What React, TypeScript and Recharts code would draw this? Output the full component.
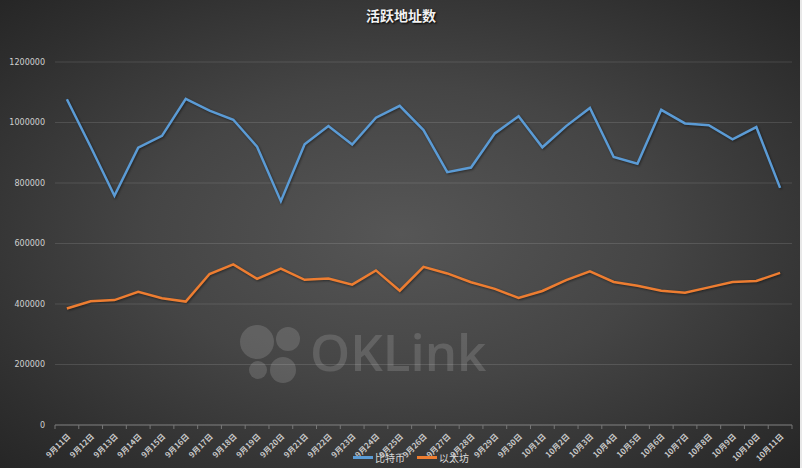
import React from 'react';
import { CartesianGrid, Line, LineChart, XAxis, YAxis } from 'recharts';

const dates = [
  '9月11日', '9月12日', '9月13日', '9月14日', '9月15日', '9月16日', '9月17日', '9月18日',
  '9月19日', '9月20日', '9月21日', '9月22日', '9月23日', '9月24日', '9月25日', '9月26日',
  '9月27日', '9月28日', '9月29日', '9月30日', '10月1日', '10月2日', '10月3日', '10月4日',
  '10月5日', '10月6日', '10月7日', '10月8日', '10月9日', '10月10日', '10月11日'
];

const btc = [
  1077000, 920000, 758000, 917000, 956000, 1078000, 1039000, 1009000,
  920000, 740000, 928000, 988000, 927000, 1016000, 1055000, 975000,
  836000, 851000, 964000, 1021000, 918000, 988000, 1048000, 886000,
  864000, 1042000, 997000, 991000, 944000, 985000, 784000
];

const eth = [
  385000, 409000, 413000, 440000, 419000, 408000, 499000, 531000,
  483000, 517000, 480000, 484000, 464000, 511000, 444000, 523000,
  501000, 472000, 450000, 420000, 443000, 479000, 508000, 473000,
  460000, 444000, 437000, 455000, 473000, 476000, 503000
];

const yTicks = [0, 200000, 400000, 600000, 800000, 1000000, 1200000];

const data = dates.map((d, i) => ({ date: d, btc: btc[i], eth: eth[i] }));

const BAND = 737 / dates.length;

const DateTick = (props: any) => {
  const { x, y, payload, index } = props;
  const last = index === dates.length - 1;
  return (
    <g>
      <line x1={x - BAND / 2} y1={y - 8} x2={x - BAND / 2} y2={y - 4} stroke="#777" />
      {last && <line x1={x + BAND / 2} y1={y - 8} x2={x + BAND / 2} y2={y - 4} stroke="#777" />}
      <text
        x={x + 4}
        y={y + 4}
        transform={`rotate(-45, ${x + 4}, ${y + 4})`}
        textAnchor="end"
        fontSize={8}
        fontWeight="bold"
        fill="#c8c8c8"
        fontFamily="'Noto Sans CJK SC', sans-serif"
      >
        {payload.value}
      </text>
    </g>
  );
};

const App = () => {
  return (
    <div
      style={{
        position: 'absolute',
        left: 0,
        top: 0,
        width: 802,
        height: 468,
        overflow: 'hidden',
        background: 'radial-gradient(ellipse at 50% 50%, #565656 0%, #454545 45%, #2e2e2e 85%, #262626 100%)',
        fontFamily: "'Noto Sans CJK SC', sans-serif"
      }}
    >
      <div
        style={{
          position: 'absolute',
          top: 5,
          width: 802,
          textAlign: 'center',
          color: '#f2f2f2',
          fontSize: 14,
          fontWeight: 'bold',
          textShadow: '1px 1px 2px #000'
        }}
      >
        活跃地址数
      </div>
      <svg width={802} height={468} style={{ position: 'absolute', left: 0, top: 0 }}>
        <g fill="rgba(255,255,255,0.14)">
          <circle cx={257} cy={342} r={17} />
          <circle cx={288} cy={339} r={12} />
          <circle cx={258} cy={370} r={9} />
          <circle cx={283} cy={370} r={13} />
          <text x={310} y={371} fontSize={51} fontWeight={600} fontFamily="'Open Sans', sans-serif">
            OKLink
          </text>
        </g>
      </svg>
      <div style={{ position: 'absolute', left: 0, top: 0 }}>
        <LineChart
          width={802}
          height={468}
          data={data}
          margin={{ top: 62, right: 10, left: 0, bottom: 0 }}
        >
          <CartesianGrid vertical={false} stroke="rgba(255,255,255,0.12)" />
          <XAxis
            dataKey="date"
            interval={0}
            height={43}
            tickLine={false}
            stroke="#777"
            padding={{ left: BAND / 2, right: BAND / 2 }}
            tick={<DateTick />}
          />
          <YAxis
            width={55}
            domain={[0, 1200000]}
            ticks={yTicks}
            axisLine={false}
            tickLine={false}
            tick={{ fill: '#d0d0d0', fontSize: 8, fontFamily: "'DejaVu Sans', sans-serif" }}
            tickMargin={4}
          />
          <Line
            type="linear"
            dataKey="btc"
            name="比特币"
            stroke="#5b9bd5"
            strokeWidth={2.5}
            dot={false}
            isAnimationActive={false}
            style={{ filter: 'drop-shadow(1px 1px 1px rgba(0,0,0,0.45))' }}
          />
          <Line
            type="linear"
            dataKey="eth"
            name="以太坊"
            stroke="#ed7d31"
            strokeWidth={2.5}
            dot={false}
            isAnimationActive={false}
            style={{ filter: 'drop-shadow(1px 1px 1px rgba(0,0,0,0.45))' }}
          />
        </LineChart>
      </div>
      <div
        style={{
          position: 'absolute',
          top: 450,
          left: 353,
          display: 'flex',
          alignItems: 'center',
          fontSize: 10,
          color: '#d9d9d9'
        }}
      >
        <span style={{ display: 'inline-block', width: 20, height: 3, background: '#5b9bd5', marginRight: 2 }} />
        <span style={{ marginRight: 12 }}>比特币</span>
        <span style={{ display: 'inline-block', width: 20, height: 3, background: '#ed7d31', marginRight: 2 }} />
        <span>以太坊</span>
      </div>
      <div style={{ position: 'absolute', right: 0, top: 0, width: 2, height: 468, background: '#e8e8e8' }} />
    </div>
  );
};

export default App;
